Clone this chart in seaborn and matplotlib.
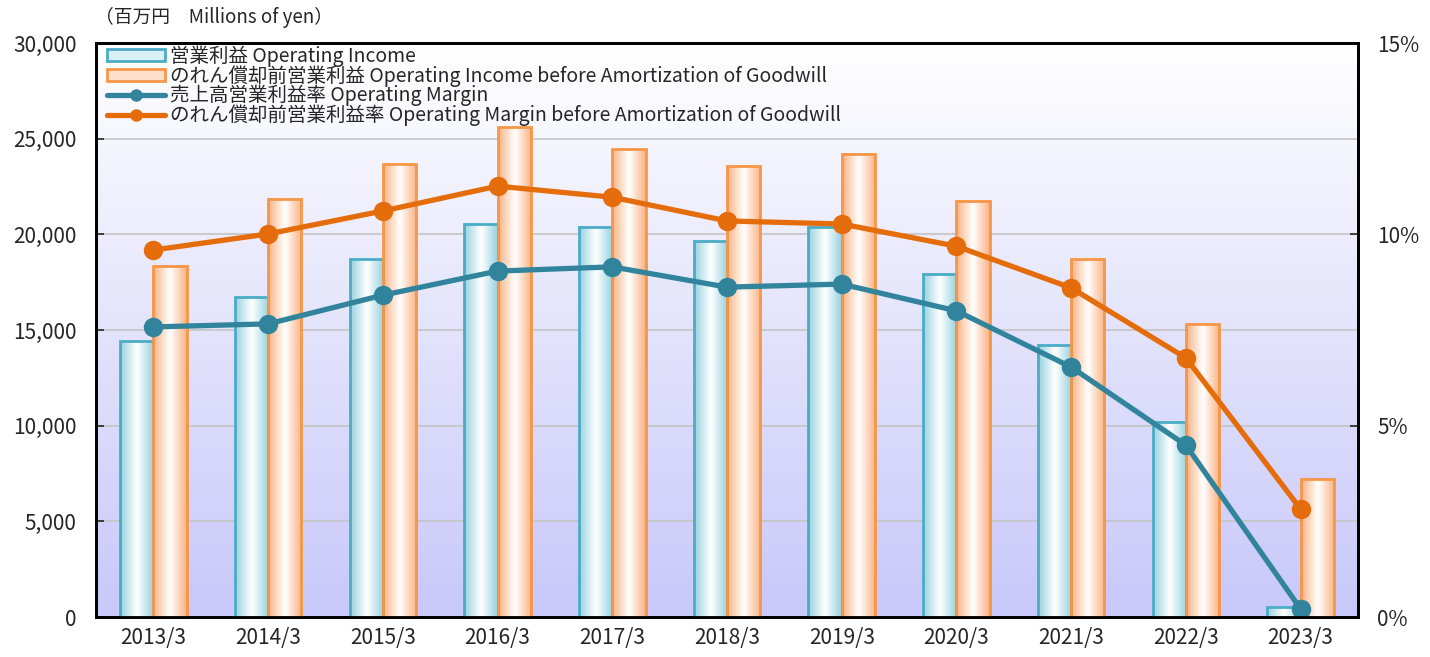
import numpy as np
import pandas as pd
import matplotlib
matplotlib.use("Agg")
import matplotlib.pyplot as plt
import seaborn as sns
from matplotlib.colors import LinearSegmentedColormap
from matplotlib.patches import Patch
from matplotlib.lines import Line2D
from matplotlib.ticker import FuncFormatter, MultipleLocator

# data
years = ["2013/3", "2014/3", "2015/3", "2016/3", "2017/3", "2018/3",
         "2019/3", "2020/3", "2021/3", "2022/3", "2023/3"]
op_income = [14400, 16700, 18700, 20550, 20400, 19650, 20400, 17950, 14200, 10200, 520]
op_income_bg = [18350, 21850, 23650, 25600, 24450, 23550, 24200, 21750, 18700, 15300, 7200]
op_margin = [7.58, 7.66, 8.41, 9.04, 9.15, 8.62, 8.70, 8.00, 6.53, 4.49, 0.21]
op_margin_bg = [9.59, 10.01, 10.61, 11.26, 10.97, 10.35, 10.27, 9.69, 8.60, 6.77, 2.82]

lab_inc = "営業利益 Operating Income"
lab_inc_bg = "のれん償却前営業利益 Operating Income before Amortization of Goodwill"
lab_mar = "売上高営業利益率 Operating Margin"
lab_mar_bg = "のれん償却前営業利益率 Operating Margin before Amortization of Goodwill"

sns.set_style("white")
plt.rcParams["font.family"] = ["Noto Sans CJK JP", "DejaVu Sans"]

blue_edge, blue_side = "#4bacc6", "#98d2e0"
orange_edge, orange_side = "#f79646", "#f9b384"
blue_line, orange_line = "#31849b", "#e46c0a"

df = pd.DataFrame({
    "year": years * 2,
    "value": op_income + op_income_bg,
    "series": [lab_inc] * len(years) + [lab_inc_bg] * len(years),
})

fig = plt.figure(figsize=(14.3, 6.57), dpi=100)
ax = fig.add_axes([96 / 1430, 1 - 617 / 657, (1358 - 96) / 1430, (617 - 43) / 657])

# background gradient of the plot area
bg = LinearSegmentedColormap.from_list("bg", ["#c8c8fa", "#ffffff"])
ax.imshow(np.linspace(0, 1, 256).reshape(-1, 1), cmap=bg, origin="lower",
          extent=[0, 1, 0, 1], transform=ax.transAxes, aspect="auto", zorder=0)

sns.barplot(data=df, x="year", y="value", hue="series", ax=ax,
            palette=[blue_edge, orange_edge], width=0.58, gap=0,
            legend=False, saturation=1)

# gradient fill for the bars
cmaps = {blue_edge: LinearSegmentedColormap.from_list("b", [blue_side, "#ffffff", blue_side]),
         orange_edge: LinearSegmentedColormap.from_list("o", [orange_side, "#ffffff", orange_side])}
grad = np.linspace(0, 1, 64).reshape(1, -1)
n = len(years)
for i, bar in enumerate(ax.patches):
    col = blue_edge if i < n else orange_edge
    x0, w, h = bar.get_x(), bar.get_width(), bar.get_height()
    ax.imshow(grad, cmap=cmaps[col], extent=[x0, x0 + w, 0, h],
              aspect="auto", zorder=2, interpolation="bilinear")
    bar.set_facecolor("none")
    bar.set_edgecolor(col)
    bar.set_linewidth(2)
    bar.set_zorder(3)

ax.set_xlim(-0.5, n - 0.5)
ax.set_ylim(0, 30000)
ax.yaxis.set_major_locator(MultipleLocator(5000))
ax.yaxis.set_major_formatter(FuncFormatter(lambda v, p: f"{int(v):,}"))
ax.set_axisbelow(True)
ax.yaxis.grid(True, color="#c4c4c4", linewidth=1.2)
ax.set_xlabel("")
ax.set_ylabel("")
ax.set_xticks(np.arange(n))
ax.set_xticklabels(years)
ax.set_xticks(np.arange(n + 1) - 0.5, minor=True)
ax.tick_params(axis="x", which="major", length=0, pad=7, labelsize=15)
ax.tick_params(axis="x", which="minor", direction="in", length=6, width=1.2)
ax.tick_params(axis="y", direction="in", length=6, width=1.2, pad=14, labelsize=15, left=True)
for s in ax.spines.values():
    s.set_color("black")
    s.set_linewidth(2)

ax2 = ax.twinx()
idx = np.arange(n)
sns.lineplot(x=idx, y=op_margin, ax=ax2, color=blue_line, linewidth=3.8,
             marker="o", markersize=14, markeredgewidth=0)
sns.lineplot(x=idx, y=op_margin_bg, ax=ax2, color=orange_line, linewidth=3.8,
             marker="o", markersize=14, markeredgewidth=0)
ax2.set_ylim(0, 15)
ax2.set_xlim(-0.5, n - 0.5)
ax2.yaxis.set_major_locator(MultipleLocator(5))
ax2.yaxis.set_major_formatter(FuncFormatter(lambda v, p: f"{int(v)}%"))
ax2.tick_params(axis="y", direction="in", length=6, width=1.2, pad=14, labelsize=15, right=True)
ax2.set_ylabel("")
for s in ax2.spines.values():
    s.set_color("black")
    s.set_linewidth(2)

handles = [
    Patch(facecolor="#d9f0f5", edgecolor=blue_edge, linewidth=2),
    Patch(facecolor="#fde0cb", edgecolor=orange_edge, linewidth=2),
    Line2D([], [], color=blue_line, linewidth=3.8, marker="o", markersize=9, markeredgewidth=0),
    Line2D([], [], color=orange_line, linewidth=3.8, marker="o", markersize=9, markeredgewidth=0),
]
ax2.legend(handles, [lab_inc, lab_inc_bg, lab_mar, lab_mar_bg], loc="upper left",
           bbox_to_anchor=(0.004, 1.006), frameon=False, fontsize=14,
           handlelength=3.0, handleheight=0.6, handletextpad=0.25,
           labelspacing=-0.09, borderaxespad=0.2, borderpad=0.1)

fig.text(95 / 1430, 1 - 17 / 657, "（百万円　Millions of yen）", fontsize=13.5,
         va="center", ha="left")

fig.savefig("out.png", dpi=100)
